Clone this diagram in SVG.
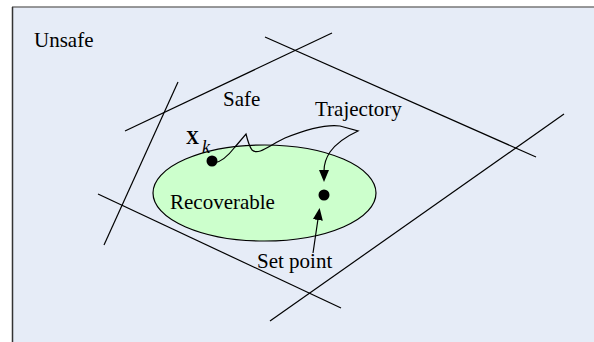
<svg xmlns="http://www.w3.org/2000/svg" width="594" height="342" viewBox="0 0 594 342">
<style>
.lbl{font-family:'Liberation Serif','DejaVu Serif',serif;font-size:21px;fill:#000}
.ln{stroke:#000;stroke-width:1.2;fill:none}
</style>
<defs>
<marker id="ah" markerWidth="12" markerHeight="10" refX="1" refY="5" orient="auto" markerUnits="userSpaceOnUse">
<path d="M0,0 L12,5 L0,10 z" fill="#000"/>
</marker>
</defs>
<rect id="background" x="12" y="7" width="584" height="337" fill="#E6ECF7"/>
<line x1="12" y1="7" x2="594" y2="7" stroke="#777" stroke-width="1.5"/>
<line x1="12.5" y1="7" x2="12.5" y2="342" stroke="#333" stroke-width="1.5"/>
<g id="boundaries">
<line class="ln" x1="125" y1="131" x2="332" y2="33"/>
<line class="ln" x1="265" y1="37" x2="536" y2="157"/>
<line class="ln" x1="178" y1="82" x2="104" y2="245"/>
<line class="ln" x1="98" y1="194" x2="341" y2="308"/>
<line class="ln" x1="564" y1="114" x2="270" y2="321"/>
</g>
<g id="recoverable">
<ellipse cx="264.5" cy="193" rx="111.5" ry="48" fill="#CCFFCC" stroke="#000" stroke-width="1.2"/>
<text class="lbl" x="170" y="209">Recoverable</text>
</g>
<g id="unsafe"><text class="lbl" x="34" y="47">Unsafe</text></g>
<g id="safe"><text class="lbl" x="223" y="106">Safe</text></g>
<g id="xk">
<circle cx="212" cy="161" r="5.5" fill="#000"/>
<text x="186" y="144" font-family="'Liberation Serif', serif" font-size="18" font-weight="bold">X</text>
<text x="202" y="153" font-family="'Liberation Serif', serif" font-size="18" font-style="italic">k</text>
</g>
<g id="setpoint">
<circle cx="324" cy="195" r="5.5" fill="#000"/>
<text class="lbl" x="257" y="268">Set point</text>
</g>
<g id="trajectory-label"><text class="lbl" x="315" y="116">Trajectory</text></g>
<g id="connectors">
<path class="ln" d="M214,163 C222,162 228,156 235,147 L246,134 Q249,146 252,150 C258,156 270,145 285,138 C305,130 325,124 340,126 L358,131 C345,137 335,145 330,152 C326,158 324,164 324,171" marker-end="url(#ah)"/>
<path class="ln" d="M313,253 L318,219" marker-end="url(#ah)"/>
</g>
</svg>
